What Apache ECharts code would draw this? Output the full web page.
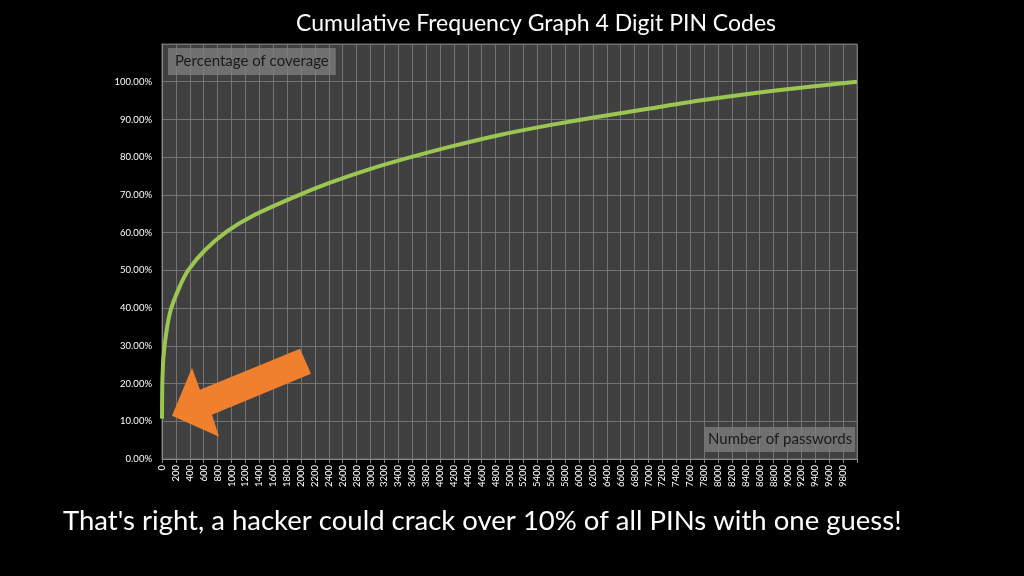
<!DOCTYPE html>
<html>
<head>
<meta charset="utf-8">
<script src="https://cdn.jsdelivr.net/npm/echarts@6/dist/echarts.min.js"></script>
<style>
html,body{margin:0;padding:0;background:#000;}
#c{width:1024px;height:576px;}
</style>
</head>
<body>
<div id="c"></div>
<script>
// Number of passwords (x) and cumulative percentage of coverage (y)
var passwordCounts = [0, 2, 5, 20, 60, 125, 250, 380, 620, 930, 1290, 1900, 2400, 2970, 3500, 4150, 4860, 5580, 6300, 7020, 7740, 8800, 9999];
var coveragePct   = [10.7, 16.7, 20.6, 26.8, 33.3, 39.5, 45.5, 50.1, 55.4, 60.3, 64.3, 69.4, 73.1, 76.7, 79.6, 82.8, 85.9, 88.5, 90.8, 92.9, 95.0, 97.6, 100];
var xTickStep = 200;
var yTickStep = 10;
var chartTitle = 'Cumulative Frequency Graph 4 Digit PIN Codes';
var caption = "That's right, a hacker could crack over 10% of all PINs with one guess!";
var yAxisTitle = 'Percentage of coverage';
var xAxisTitle = 'Number of passwords';

var seriesData = passwordCounts.map(function (x, i) { return [x, coveragePct[i]]; });
var FONT = 'Lato, "Open Sans", sans-serif';

var chart = echarts.init(document.getElementById('c'));
chart.setOption({
  backgroundColor: '#000',
  animation: false,
  title: [
    { text: chartTitle, left: 291, top: 7, textStyle: { color: '#fff', fontSize: 23, fontWeight: 'normal', fontFamily: FONT } },
    { text: caption, left: 58, top: 502, textStyle: { color: '#fff', fontSize: 27.5, fontWeight: 'normal', fontFamily: FONT } },
    { text: yAxisTitle, left: 168, top: 48, padding: [6, 7, 6, 7], backgroundColor: 'rgba(128,128,128,0.75)',
      textStyle: { color: '#1a1a1a', fontSize: 15, fontWeight: 'normal', fontFamily: FONT } },
    { text: xAxisTitle, left: 705, top: 427, padding: [5, 3, 5, 3], backgroundColor: 'rgba(128,128,128,0.75)',
      textStyle: { color: '#1a1a1a', fontSize: 15, fontWeight: 'normal', fontFamily: FONT } }
  ],
  grid: { left: 162, right: 167, top: 44, bottom: 117, show: true, backgroundColor: '#404040', borderColor: '#6a6a6a', borderWidth: 1, z: 0 },
  xAxis: {
    type: 'value', min: 0, max: 10000, interval: xTickStep,
    axisLine: { show: true, lineStyle: { color: '#8a8a8a' } },
    axisTick: { show: true, length: 4, lineStyle: { color: '#8a8a8a' } },
    splitLine: { show: true, lineStyle: { color: '#747474', width: 1 } },
    axisLabel: { rotate: 90, color: '#fff', fontSize: 9.5, fontFamily: FONT, margin: 6,
      formatter: function (v) { return v >= 10000 ? '' : String(v); } }
  },
  yAxis: {
    type: 'value', min: 0, max: 110, interval: yTickStep,
    axisLine: { show: true, lineStyle: { color: '#8a8a8a' } },
    axisTick: { show: false },
    splitLine: { show: true, lineStyle: { color: '#747474', width: 1 } },
    axisLabel: { color: '#fff', fontSize: 9.5, fontFamily: FONT, margin: 10,
      formatter: function (v) { return v > 100 ? '' : v.toFixed(2) + '%'; } }
  },
  series: [{
    type: 'line', data: seriesData, showSymbol: false, smooth: 0.25,
    lineStyle: { color: '#9BC651', width: 4 }, z: 3
  }]
});

// Orange annotation arrow pointing at the first point
var tip = chart.convertToPixel({ gridIndex: 0 }, seriesData[0]);
var tx = tip[0] + 10, ty = tip[1] - 3;
var rel = [[0, 0], [20, -48], [28, -26], [128, -67], [139, -42], [40, -1], [47, 21]];
chart.setOption({
  graphic: [{
    type: 'polygon', z: 100,
    shape: { points: rel.map(function (p) { return [tx + p[0], ty + p[1]]; }) },
    style: { fill: '#F07F2E' }
  }]
});
</script>
</body>
</html>
